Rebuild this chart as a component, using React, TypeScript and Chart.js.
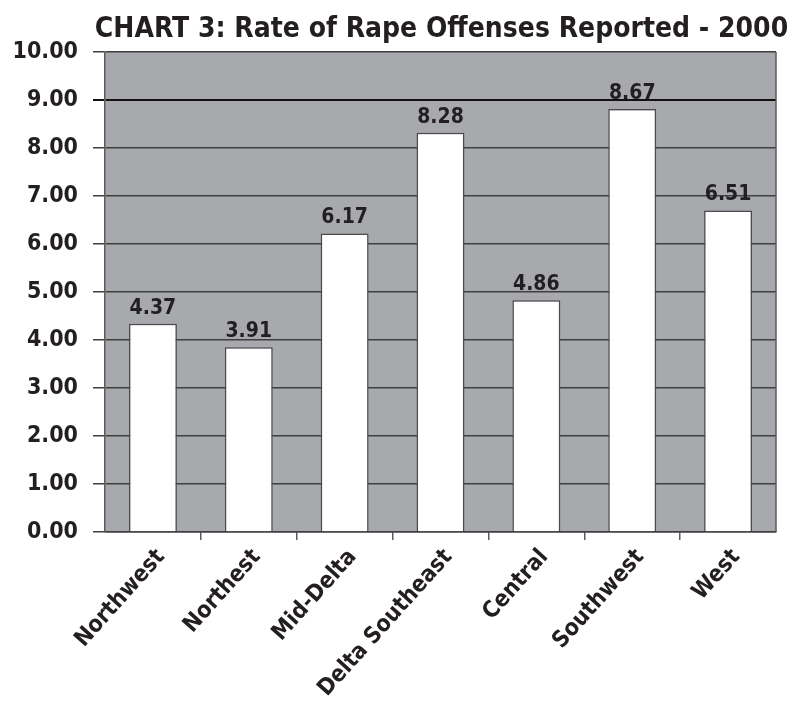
import React, { useEffect, useRef } from "react";
import { Chart, registerables } from "chart.js";

Chart.register(...registerables);

const categories = ["Northwest", "Northest", "Mid-Delta", "Delta Southeast", "Central", "Southwest", "West"];
// bar heights as drawn in the picture
const barHeights = [4.34, 3.85, 6.22, 8.32, 4.83, 8.81, 6.7];
// reported values printed above the bars
const reportedLabels = ["4.37", "3.91", "6.17", "8.28", "4.86", "8.67", "6.51"];
const titleText = "CHART 3: Rate of Rape Offenses Reported - 2000";
const yMin = 0;
const yMax = 10;
const yStep = 1;

const FONT = '"DejaVu Sans Condensed", "DejaVu Sans", sans-serif';
const TEXT = "#231f20";
const PLOT_BG = "#a7a9ac";
const GRID = "#3f3f40";

const framePlugin = {
  id: "frame",
  beforeDraw(chart: any) {
    const { ctx, chartArea } = chart;
    ctx.save();
    ctx.fillStyle = PLOT_BG;
    ctx.fillRect(chartArea.left, chartArea.top, chartArea.right - chartArea.left, chartArea.bottom - chartArea.top);
    ctx.restore();
  },
  afterDraw(chart: any) {
    const { ctx, chartArea } = chart;
    ctx.save();
    ctx.strokeStyle = "#5a5b5d";
    ctx.lineWidth = 1.5;
    ctx.beginPath();
    ctx.moveTo(chartArea.right, chartArea.top);
    ctx.lineTo(chartArea.right, chartArea.bottom);
    ctx.stroke();
    // title, centred over the plot area
    ctx.font = `bold 28px ${FONT}`;
    ctx.fillStyle = TEXT;
    ctx.textAlign = "center";
    ctx.textBaseline = "alphabetic";
    ctx.fillText(titleText, (chartArea.left + chartArea.right) / 2 + 1, chartArea.top - 15);
    ctx.restore();
  },
};

const valueLabelPlugin = {
  id: "valueLabels",
  afterDatasetsDraw(chart: any) {
    const { ctx } = chart;
    const meta = chart.getDatasetMeta(0);
    ctx.save();
    ctx.font = `bold 21px ${FONT}`;
    ctx.fillStyle = TEXT;
    ctx.textAlign = "center";
    ctx.textBaseline = "alphabetic";
    meta.data.forEach((bar: any, i: number) => {
      ctx.fillText(reportedLabels[i], bar.x, bar.y - 10);
    });
    ctx.restore();
  },
};

export default function App() {
  const canvasRef = useRef<HTMLCanvasElement | null>(null);

  useEffect(() => {
    document.body.style.margin = "0";
    const canvas = canvasRef.current;
    if (!canvas) return;
    const chart = new Chart(canvas, {
      type: "bar",
      data: {
        labels: categories,
        datasets: [
          {
            data: barHeights,
            backgroundColor: "#ffffff",
            borderColor: "#4a4b4d",
            borderWidth: 1.5,
            barPercentage: 0.5,
            categoryPercentage: 1,
          },
        ],
      },
      options: {
        responsive: false,
        animation: false,
        devicePixelRatio: 1,
        layout: { padding: { left: 0, right: 24, top: 52, bottom: 0 } },
        plugins: {
          legend: { display: false },
          tooltip: { enabled: false },
          title: { display: false },
        },
        scales: {
          x: {
            grid: {
              offset: true,
              drawOnChartArea: false,
              drawTicks: true,
              tickLength: 8,
              color: (ctx: any) => (ctx.type !== "tick" || ctx.index === 0 ? "rgba(0,0,0,0)" : "#5a5b5d"),
              lineWidth: 1.5,
            },
            border: { display: true, color: GRID, width: 1.5 },
            ticks: {
              color: TEXT,
              font: { family: FONT, size: 23, weight: "bold" },
              minRotation: 48,
              maxRotation: 48,
              padding: 4,
              labelOffset: 8,
              autoSkip: false,
            },
            afterFit(scale: any) {
              scale.height = 172;
            },
          },
          y: {
            min: yMin,
            max: yMax,
            grid: {
              drawTicks: true,
              tickLength: 12,
              color: (ctx: any) => (ctx.tick && ctx.tick.value === 9 ? "#111111" : GRID),
              lineWidth: (ctx: any) => (ctx.tick && ctx.tick.value === 9 ? 2 : 1.5),
            },
            border: { display: true, color: "#5a5b5d", width: 1.5 },
            ticks: {
              stepSize: yStep,
              color: TEXT,
              font: { family: FONT, size: 23, weight: "bold" },
              padding: 15,
              callback: (v: any) => Number(v).toFixed(2),
            },
            afterFit(scale: any) {
              scale.width = 105;
            },
          },
        },
      },
      plugins: [framePlugin, valueLabelPlugin],
    });
    return () => chart.destroy();
  }, []);

  return (
    <div style={{ width: 800, height: 704, background: "#ffffff" }}>
      <canvas ref={canvasRef} width={800} height={704} />
    </div>
  );
}
